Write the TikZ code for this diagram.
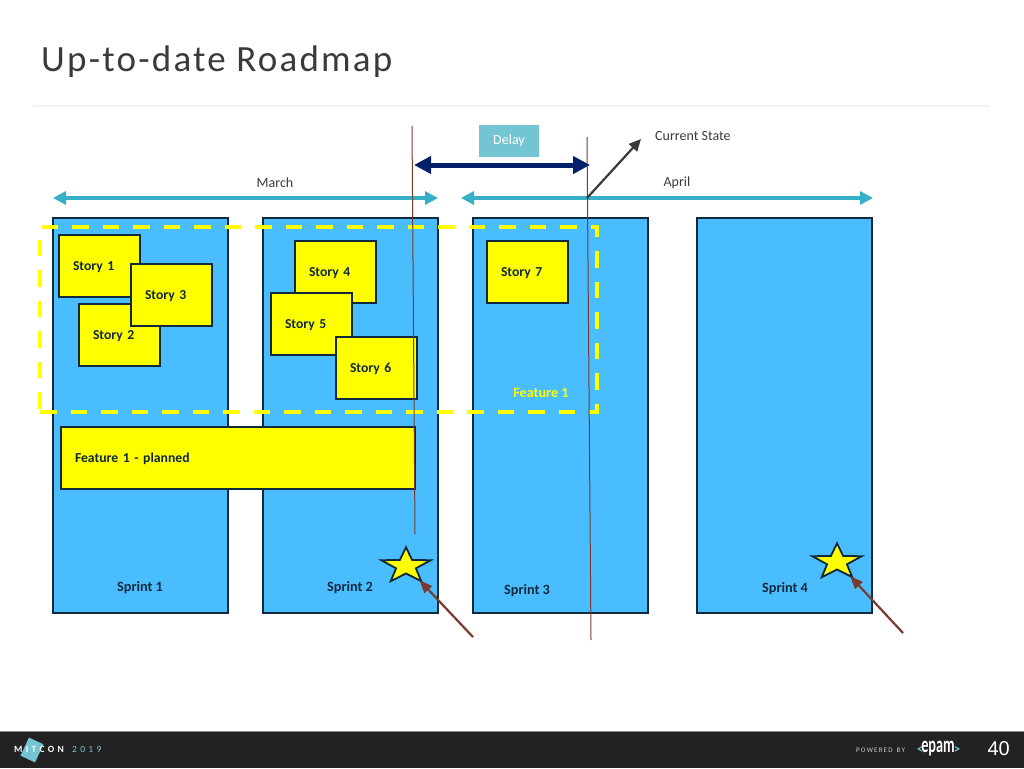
\documentclass[tikz,border=0pt]{standalone}
\usepackage{fontspec}
\setmainfont{Carlito}
\newfontfamily\titlefont[LetterSpace=6]{Carlito}
\newfontfamily\logofont[LetterSpace=35]{Carlito}
\newfontfamily\numfont{Liberation Sans}
\usetikzlibrary{arrows.meta,shapes.geometric}
\definecolor{sprintblue}{HTML}{4ABDFF}
\definecolor{outline}{HTML}{10293D}
\definecolor{teal}{HTML}{35B0C6}
\definecolor{navy}{HTML}{04206B}
\definecolor{delaybox}{HTML}{73C5D3}
\definecolor{brownline}{HTML}{7A3B2E}
\definecolor{textgray}{HTML}{3A3A3A}
\definecolor{darkbar}{HTML}{222222}
\definecolor{brightyellow}{RGB}{255,255,0}
\tikzset{
    sprintbox/.style={draw=outline, line width=1.9pt, fill=sprintblue, anchor=north west, outer sep=0pt, minimum width=175pt, minimum height=395pt},
    storybox/.style={draw=outline, line width=1.7pt, fill=brightyellow, anchor=north west, outer sep=0pt, minimum width=81pt, minimum height=62pt, text width=53pt, text height=9pt, text depth=0pt, inner xsep=14pt, align=left, font=\bfseries\fontsize{13.7}{15}\selectfont, text=outline},
    sprintlabel/.style={font=\bfseries\fontsize{14.2}{15}\selectfont, text=outline},
    monthlabel/.style={font=\fontsize{14}{16}\selectfont, text=textgray},
    monthline/.style={teal, line width=3.6pt, {Triangle[length=13pt,width=13pt]}-{Triangle[length=13pt,width=13pt]}},
    markline/.style={brownline, line width=1pt},
    starmark/.style={star, star points=5, star point ratio=2.5, draw=outline, line width=1.8pt, fill=brightyellow, minimum size=52pt, inner sep=0pt, outer sep=0pt, yscale=0.72, transform shape},
    stararrow/.style={brownline, line width=2.2pt, -{Triangle[length=13pt,width=10pt]}},
}
\begin{document}
\begin{tikzpicture}[x=1pt, y=-1pt]
    \useasboundingbox (0,0) rectangle (1024,768);
    % title
    \node[anchor=west, inner sep=0pt, font=\titlefont\fontsize{37}{40}\selectfont, text=textgray] (title) at (41,62) {Up-to-date Roadmap};
    \coordinate (ruleL) at (33,106);
    \coordinate (ruleR) at (990,106);
    \draw[black!5, line width=1.5pt] (ruleL) -- (ruleR);
    % sprints
    \node[sprintbox] (sprint1) at (53,218) {};
    \node[sprintbox] (sprint2) at (263,218) {};
    \node[sprintbox] (sprint3) at (473,218) {};
    \node[sprintbox] (sprint4) at (697,218) {};
    \node[sprintlabel] (label1) at (140,587.5) {Sprint 1};
    \node[sprintlabel] (label2) at (350,587.5) {Sprint 2};
    \node[sprintlabel] (label3) at (527,590.5) {Sprint 3};
    \node[sprintlabel] (label4) at (785,588.5) {Sprint 4};
    % stories
    \node[storybox] (story1) at (59,235) {Story 1};
    \node[storybox] (story2) at (79,304) {Story 2};
    \node[storybox] (story3) at (131,264) {Story 3};
    \node[storybox] (story4) at (295,241) {Story 4};
    \node[storybox] (story5) at (271,293) {Story 5};
    \node[storybox] (story6) at (336,337) {Story 6};
    \node[storybox] (story7) at (487,241) {Story 7};
    \node[storybox, minimum width=354pt, text width=326pt] (planned) at (61,427) {Feature 1 - planned};
    % feature frame
    \node[draw=brightyellow, dash pattern=on 16.5pt off 14pt, line width=4.5pt, anchor=north west, outer sep=0pt, minimum width=557pt, minimum height=185pt] (frame) at (40,227) {};
    \node[font=\bfseries\fontsize{14.2}{15}\selectfont, text=brightyellow] (feature) at (541,392.5) {Feature 1};
    % months
    \coordinate (marchL) at (53,198);
    \coordinate (marchR) at (438,198);
    \coordinate (aprilL) at (461,198);
    \coordinate (aprilR) at (873,198);
    \draw[monthline] (marchL) -- (marchR);
    \draw[monthline] (aprilL) -- (aprilR);
    \node[monthlabel] (march) at (275,182.5) {March};
    \node[monthlabel] (april) at (677,182.5) {April};
    % delay
    \node[fill=delaybox, minimum width=60pt, minimum height=32pt, text=white, font=\fontsize{14}{16}\selectfont] (delay) at (509,141) {\raisebox{-1.5pt}{Delay}};
    \coordinate (line1a) at (412,126);
    \coordinate (line1b) at (415,534);
    \coordinate (line2a) at (587,137);
    \coordinate (line2b) at (591,640);
    \draw[markline] (line1a) -- (line1b);
    \draw[markline] (line2a) -- (line2b);
    \coordinate (delayL) at (414,165);
    \coordinate (delayR) at (590,165);
    \draw[navy, line width=5pt, {Triangle[length=17pt,width=17pt]}-{Triangle[length=17pt,width=17pt]}] (delayL) -- (delayR);
    % current state
    \coordinate (stateA) at (587,198);
    \coordinate (stateB) at (641,139);
    \draw[textgray, line width=2.2pt, -{Triangle[length=12pt,width=11pt]}] (stateA) -- (stateB);
    \node[monthlabel, anchor=west, inner sep=0pt] (state) at (655,136.5) {Current State};
    % stars
    \node[starmark] (star1) at (406,566) {};
    \node[starmark] (star2) at (837,562) {};
    \coordinate (star1end) at (473,637);
    \coordinate (star2end) at (903,633);
    \draw[stararrow] (star1end) -- (star1);
    \draw[stararrow] (star2end) -- (star2);
    % footer
    \fill[darkbar] (0,732) rectangle (1024,768);
    \draw[black!45, line width=0.8pt] (0,731.5) -- (1024,731.5);
    \fill[delaybox, rotate around={-25:(32,750)}] (24,740) rectangle (40,760);
    \node[text=white, font=\logofont\bfseries\fontsize{9.5}{10}\selectfont, anchor=west, inner sep=0pt] (mit) at (14,749.5) {MITCON};
    \node[text=delaybox, font=\logofont\fontsize{9.5}{10}\selectfont, anchor=west, inner sep=0pt] (year) at (72,749.5) {2019};
    \node[text=white!80!black, font=\fontsize{7}{8}\selectfont, anchor=west, inner sep=0pt] (powered) at (856,750) {P\,O\,W\,E\,R\,E\,D\, \,B\,Y};
    \node[text=white, font=\bfseries\fontsize{23}{24}\selectfont, anchor=center, inner sep=0pt, xscale=0.62, transform shape] (epam) at (938,749) {epam};
    \node[text=delaybox, font=\bfseries\fontsize{13}{14}\selectfont, inner sep=0pt] (epamL) at (920,750) {<};
    \node[text=delaybox, font=\bfseries\fontsize{13}{14}\selectfont, inner sep=0pt] (epamR) at (957,750) {>};
    \node[text=white, font=\numfont\fontsize{20}{22}\selectfont, anchor=east, inner sep=0pt] (page) at (1010,749) {40};
\end{tikzpicture}
\end{document}
